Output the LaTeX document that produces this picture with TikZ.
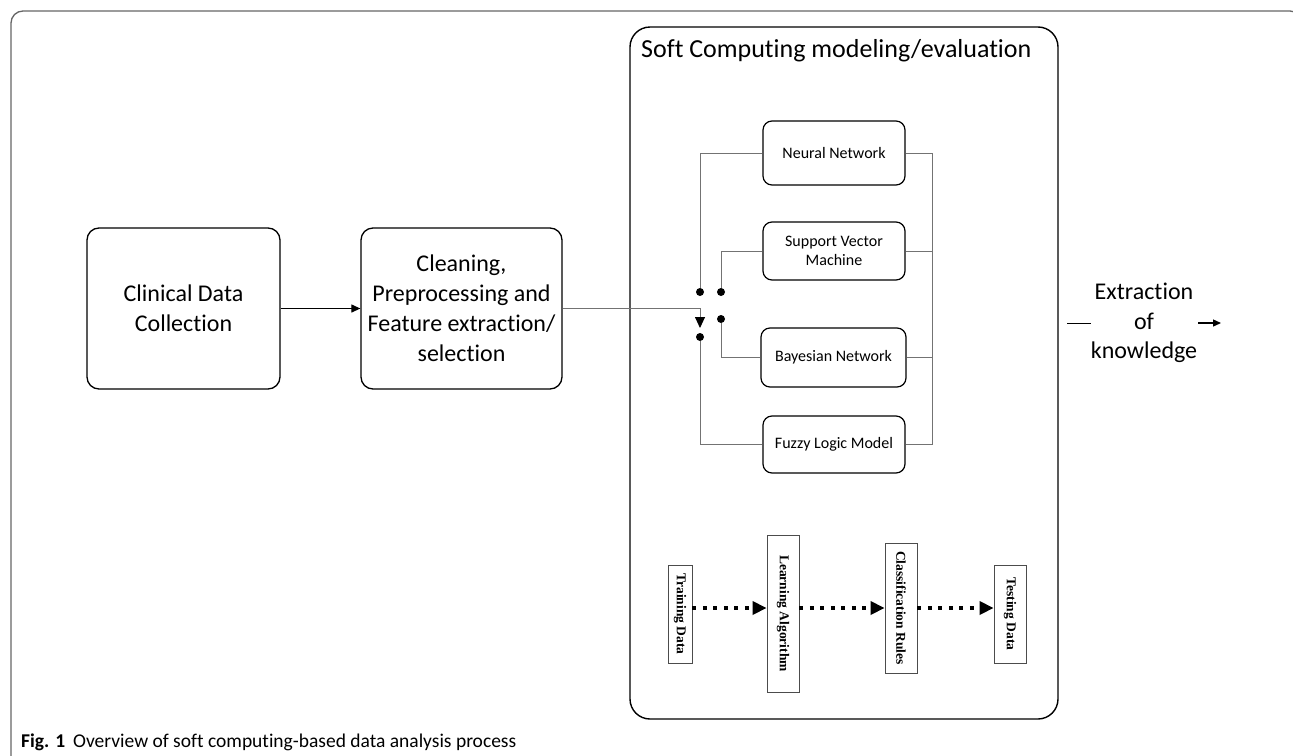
\documentclass[tikz,border=0pt]{standalone}
\usepackage{fontspec}
\setmainfont{Carlito}[Ligatures=NoCommon]
\newfontfamily\tnr{Liberation Serif}
\usetikzlibrary{arrows.meta}
\begin{document}
\begin{tikzpicture}[x=1pt,y=-1pt,
  mainbox/.style={draw, line width=1.3pt, rounded corners=12pt, inner sep=0pt, align=center, font=\fontsize{24}{30}\selectfont},
  modbox/.style={draw, line width=1.2pt, rounded corners=9pt, inner sep=0pt, align=center, font=\fontsize{16}{19}\selectfont},
  wire/.style={draw=black!55, line width=0.9pt},
  dotnode/.style={circle, fill=black, inner sep=0pt, minimum size=8pt},
  stagebox/.style={draw=black!70, line width=0.8pt, rotate=-90, inner sep=0pt, font=\tnr\bfseries\fontsize{13.5}{15}\selectfont},
  dotarrow/.style={line width=4pt, dash pattern=on 4pt off 6.5pt, -{Triangle[length=14pt,width=13pt]}}]
\useasboundingbox (0,0) rectangle (1293,755);
\clip (0,0) rectangle (1293,755);
% outer frame
\draw[draw=black!60, line width=1.3pt, rounded corners=12pt] (11,780) -- (11,11) -- (1302,11) -- (1302,780);
% left boxes
\node[mainbox, minimum width=193pt, minimum height=161pt] (cdc) at (183.5,308.5) {Clinical Data\\Collection};
\node[mainbox, minimum width=201pt, minimum height=161pt] (clean) at (461.5,308.5) {Cleaning,\\Preprocessing and\\Feature extraction/\\selection};
\draw[line width=1.2pt, -{Triangle[length=9pt,width=8pt]}] (cdc.east) -- (clean.west);
% soft computing container
\node[draw, line width=1.4pt, rounded corners=20pt, minimum width=428pt, minimum height=692pt, inner sep=0pt] (sc) at (844,373) {};
\node[font=\fontsize{26}{30}\selectfont, anchor=west, inner sep=0pt] (title) at (641,51) {Soft Computing modeling/evaluation};
% models
\node[modbox, minimum width=142pt, minimum height=64pt] (nn) at (834,153) {Neural Network};
\node[modbox, minimum width=142pt, minimum height=58pt] (svm) at (834,251) {Support Vector\\Machine};
\node[modbox, minimum width=145pt, minimum height=59pt] (bn) at (833.5,357.5) {Bayesian Network};
\node[modbox, minimum width=142pt, minimum height=57pt] (fl) at (834,444.5) {Fuzzy Logic Model};
% switch contacts
\node[dotnode] (d1) at (700,292) {};
\node[dotnode] (d2) at (721,292) {};
\node[dotnode] (d3) at (721,319) {};
\node[dotnode] (d4) at (700,337) {};
\coordinate (tip) at (700,328);
\draw[wire] (nn.west) -| (d1);
\draw[wire] (svm.west) -| (d2);
\draw[wire] (bn.west) -| (d3);
\draw[wire] (fl.west) -| (d4);
\draw[wire, -{Triangle[length=11pt,width=10pt,color=black]}] (clean.east) -| (tip);
% right bus
\coordinate (bt) at (932,153);
\coordinate (bb) at (932,444.5);
\draw[wire] (nn.east) -- (bt) -- (bb) -- (fl.east);
\draw[wire] (svm.east) -- (svm.east -| bt);
\draw[wire] (bn.east) -- (bn.east -| bt);
% extraction of knowledge
\node[align=center, font=\fontsize{24}{29.5}\selectfont] (ext) at (1144,323) {Extraction\\of\\knowledge};
\coordinate (da) at (1067,323);
\coordinate (db) at (1091,323);
\draw[line width=1pt] (da) -- (db);
\coordinate (aa) at (1198,323);
\coordinate (ab) at (1221,323);
\draw[line width=1.3pt, -{Triangle[length=8pt,width=7pt]}] (aa) -- (ab);
% learning pipeline
\node[stagebox, minimum width=98pt, minimum height=24pt] (tr) at (680,614) {Training Data};
\node[stagebox, minimum width=157pt, minimum height=32pt] (la) at (783,613.5) {Learning Algorithm};
\node[stagebox, minimum width=130pt, minimum height=32pt] (cr) at (901,608) {Classification Rules};
\node[stagebox, minimum width=98pt, minimum height=32pt] (td) at (1010,614) {Testing Data};
\coordinate (row) at (0,608);
\draw[dotarrow] (tr.north |- row) -- (la.south |- row);
\draw[dotarrow] (la.north |- row) -- (cr.south |- row);
\draw[dotarrow] (cr.north |- row) -- (td.south |- row);
% caption
\node[anchor=base west, font=\fontsize{19.5}{22}\selectfont, inner sep=0pt] (cap) at (21,747) {\textbf{Fig. 1}\hspace{8pt}Overview of soft computing-based data analysis process};
\end{tikzpicture}
\end{document}
